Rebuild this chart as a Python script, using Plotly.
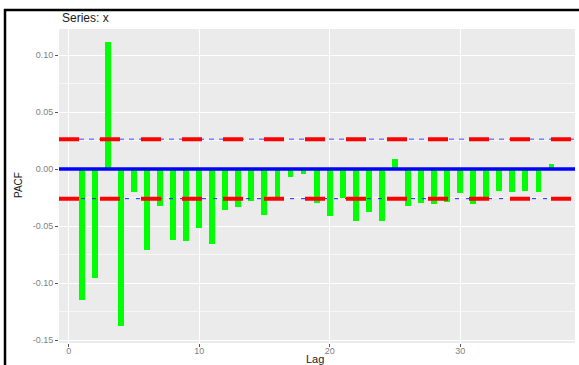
import plotly.graph_objects as go

lags = list(range(1, 38))
pacf = [-0.115, -0.096, 0.111, -0.138, -0.020, -0.071, -0.032, -0.062, -0.063, -0.052,
        -0.066, -0.036, -0.033, -0.028, -0.040, -0.025, -0.007, -0.004, -0.030, -0.041,
        -0.025, -0.046, -0.038, -0.046, 0.009, -0.032, -0.030, -0.031, -0.029, -0.021,
        -0.031, -0.026, -0.019, -0.020, -0.019, -0.020, 0.004]
ci = 0.026
x_ticks = [0, 10, 20, 30]
y_ticks = [-0.15, -0.10, -0.05, 0.00, 0.05, 0.10]
y_tick_labels = ["-0.15", "-0.10", "-0.05", "0.00", "0.05", "0.10"]

W, H = 579, 365
ml, mr, mt, mb = 59, 4, 29, 22
xr = [-0.74, 38.8]
yr = [-0.1526, 0.1228]

fig = go.Figure()
fig.add_trace(go.Bar(x=lags, y=pacf, base=0, width=0.45, marker=dict(color="#00FF00", line=dict(width=0)),
                     showlegend=False))
# blue thin dashed lines
fig.add_trace(go.Scatter(x=xr, y=[ci, ci], mode="lines",
                         line=dict(color="rgba(90,90,255,0.75)", width=1.5, dash="5px,5px"), showlegend=False))
fig.add_trace(go.Scatter(x=xr, y=[-ci, -ci], mode="lines",
                         line=dict(color="#2020ff", width=1, dash="4px,7px"), showlegend=False))
# red dashed lines
for v in (ci, -ci):
    fig.add_trace(go.Scatter(x=xr, y=[v, v], mode="lines",
                             line=dict(color="#FF0000", width=4, dash="20px,21px"), showlegend=False))
# zero line
fig.add_trace(go.Scatter(x=xr, y=[0, 0], mode="lines", line=dict(color="#0000FF", width=3.5), showlegend=False))

pw, ph = W - ml - mr, H - mt - mb
def px2x(p):
    return (p - ml) / pw
def py2y(p):
    return (H - mb - p) / ph

shapes = [
    dict(type="line", xref="paper", yref="paper", x0=px2x(4), x1=px2x(580), y0=py2y(10), y1=py2y(10),
         line=dict(color="black", width=2.5)),
    dict(type="line", xref="paper", yref="paper", x0=px2x(5), x1=px2x(5), y0=py2y(9), y1=py2y(366),
         line=dict(color="black", width=2.5)),
]

annotations = [
    dict(text="Series: x", xref="paper", yref="paper", x=px2x(60), y=py2y(18),
         xanchor="left", yanchor="middle", showarrow=False, font=dict(size=12, color="#1a1a1a")),
    dict(text="Lag", xref="paper", yref="paper", x=px2x(315), y=py2y(359),
         xanchor="center", yanchor="middle", showarrow=False, font=dict(size=11, color="#1a1a1a")),
    dict(text="PACF", xref="paper", yref="paper", x=px2x(18), y=py2y(185), textangle=-90,
         xanchor="center", yanchor="middle", showarrow=False, font=dict(size=10, color="#1a1a1a")),
]

fig.update_layout(
    width=W, height=H,
    margin=dict(l=ml, r=mr, t=mt, b=mb, autoexpand=False),
    paper_bgcolor="white", plot_bgcolor="#EBEBEB",
    font=dict(family="Liberation Sans, Arial, sans-serif"),
    shapes=shapes,
    annotations=annotations,
    bargap=0,
    xaxis=dict(range=xr, tickvals=x_ticks, ticks="outside", ticklen=3, tickcolor="#555",
               ticklabelstandoff=-4,
               tickfont=dict(size=9, color="#7f7f7f"), showgrid=True, gridcolor="white", gridwidth=1.2,
               zeroline=False, showline=False, automargin=False),
    yaxis=dict(range=yr, tickvals=y_ticks, ticktext=y_tick_labels, ticks="outside", ticklen=3,
               tickcolor="#555", tickfont=dict(size=9, color="#7f7f7f"), showgrid=True, gridcolor="white",
               gridwidth=1.2, minor=dict(dtick=0.025, tick0=0, showgrid=True, gridcolor="#F7F7F7", gridwidth=1),
               zeroline=False, showline=False, automargin=False),
)

fig.write_html("out.html")
